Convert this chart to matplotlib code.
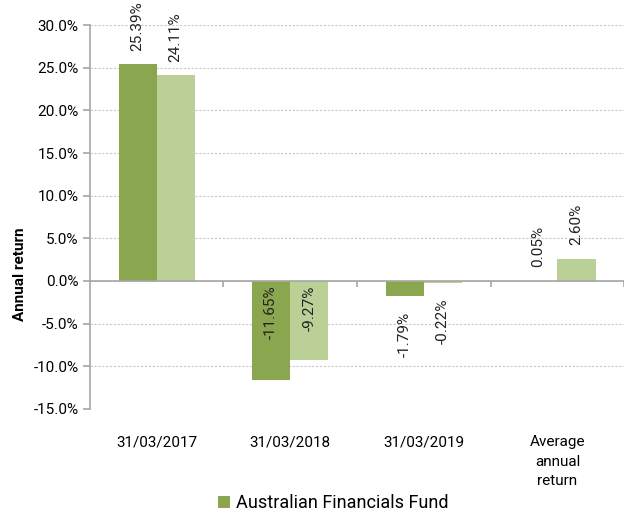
import matplotlib
matplotlib.use("Agg")
import matplotlib.pyplot as plt
import numpy as np

# datos
categories = ["31/03/2017", "31/03/2018", "31/03/2019", "Average\nannual\nreturn"]
fund = [25.39, -11.65, -1.79, 0.05]
benchmark = [24.11, -9.27, -0.22, 2.60]
fund_name = "Australian Financials Fund"

DARK = "#8AA64E"
LIGHT = "#BAD097"
AXIS = "#A6A6A6"

plt.rcParams["font.family"] = ["Roboto", "DejaVu Sans"]

fig = plt.figure(figsize=(6.28, 5.13), dpi=100)
ax = fig.add_axes([0.143, 0.203, 0.851, 0.748])

x = np.arange(len(categories))
w = 0.285
b1 = ax.bar(x - w / 2, fund, w, color=DARK, label=fund_name, zorder=3)
b2 = ax.bar(x + w / 2, benchmark, w, color=LIGHT, zorder=3)


def label_pos(v):
    # etiqueta encima de barras positivas, debajo de las negativas
    if v >= 0:
        return v + 1.6, "bottom"
    if v < -5:
        return -0.5, "top"
    return v - 1.8, "top"


for xs, vals in [(x - w / 2, fund), (x + w / 2, benchmark)]:
    for xi, v in zip(xs, vals):
        y, va = label_pos(v)
        ax.text(xi, y, f"{v:.2f}%", rotation=90, ha="center", va=va,
                fontsize=11, color="#222222", zorder=4)

ax.set_xlim(-0.5, len(categories) - 0.5)
ax.set_ylim(-15, 30)
ax.set_yticks(np.arange(-15, 31, 5))
ax.set_yticklabels([f"{t:.1f}%" for t in np.arange(-15, 31, 5)], fontsize=11)
ax.yaxis.grid(True, linestyle=(0, (2, 1.5)), color="#C8C8C8", linewidth=0.8, zorder=0)

# eje cero con marcas entre categorías
ax.axhline(0, color=AXIS, linewidth=1.2, zorder=3)
bounds = np.arange(-0.5, len(categories), 1.0)[1:]
ax.vlines(bounds, -0.7, 0, color=AXIS, linewidth=1.2, zorder=3)

ax.set_xticks(x)
ax.set_xticklabels(categories, fontsize=11, linespacing=1.5, va="top")
ax.tick_params(axis="x", length=0, pad=19)
ax.tick_params(axis="y", length=5, color=AXIS, width=1.2, pad=3)

for s in ["top", "right", "bottom"]:
    ax.spines[s].set_visible(False)
ax.spines["left"].set_color(AXIS)
ax.spines["left"].set_linewidth(1.2)

ax.set_ylabel("Annual return", fontsize=11, fontweight="bold")
ax.yaxis.set_label_coords(-0.117, 0.35)

fig.legend(handles=[b1], labels=[fund_name], loc="lower center",
           bbox_to_anchor=(0.53, -0.03), frameon=False, fontsize=13,
           handlelength=0.7, handleheight=0.7, handletextpad=0.3)

fig.savefig("out.png", dpi=100)
